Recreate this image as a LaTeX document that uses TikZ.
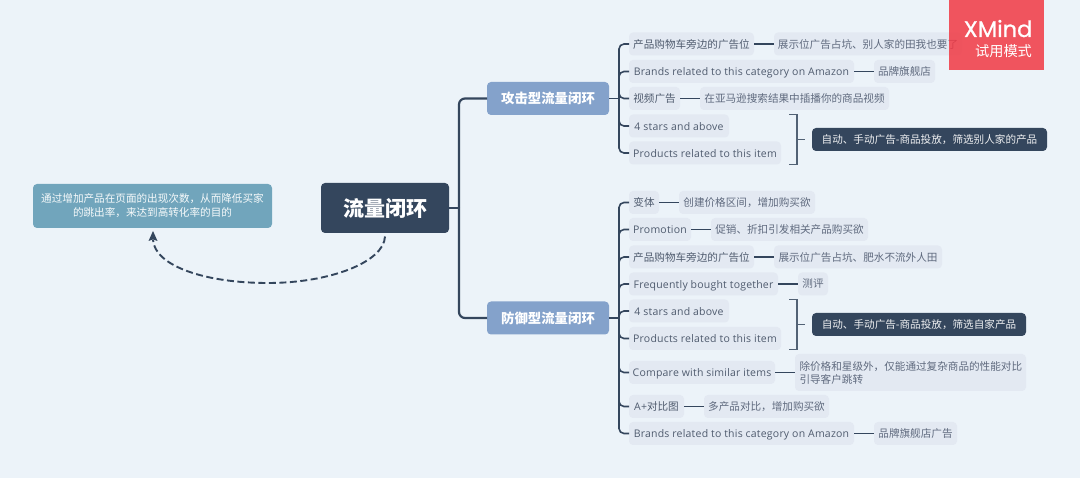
\documentclass[tikz,border=0pt]{standalone}
\usepackage{fontspec}
\setmainfont{Noto Sans CJK SC}
\newfontfamily\enf[LetterSpace=2]{Open Sans}
\newfontfamily\logof[FakeBold=0.8]{Poppins}
\newcommand{\en}[1]{\raisebox{0pt}[8.6pt][0pt]{\enf\fontsize{10.5}{13}\selectfont #1}}
\definecolor{bgc}{HTML}{ECF3F9}
\definecolor{linec}{HTML}{34465D}
\definecolor{boxc}{HTML}{E3E9F2}
\definecolor{txa}{HTML}{4F5B6E}
\definecolor{txb}{HTML}{5F6A7E}
\definecolor{branchc}{HTML}{84A2CB}
\definecolor{tealc}{HTML}{71A5BC}
\definecolor{redc}{HTML}{F13944}
\tikzset{
  box/.style={rectangle,rounded corners=4pt,inner sep=0pt,outer sep=0pt,align=center},
  kid/.style={box,fill=boxc,text=txa,minimum height=23pt,font=\fontsize{10.6}{13}\selectfont},
  leaf/.style={box,fill=boxc,text=txb,minimum height=23pt,font=\fontsize{10.6}{13}\selectfont},
  darkn/.style={box,fill=linec,text=white!92!linec,minimum height=23pt,font=\fontsize{10.6}{13}\selectfont},
  branchn/.style={box,fill=branchc,text=white,minimum width=122pt,minimum height=33pt,font=\fontsize{13.4}{16}\selectfont\bfseries},
  trunk/.style={draw=linec,line width=2.2pt,rounded corners=6pt},
  twig/.style={draw=linec,line width=1.6pt,rounded corners=5pt},
  pair/.style={draw=linec,line width=1.7pt},
  brace/.style={draw=linec!85!white,line width=1.4pt},
}
\begin{document}
\begin{tikzpicture}[x=1pt,y=-1pt]
\useasboundingbox (0,0) rectangle (1080,478);
\fill[bgc] (0,0) rectangle (1080,478);
% central
\node[box,fill=linec,text=white,minimum width=128pt,minimum height=50pt,font=\fontsize{21}{25}\selectfont\bfseries] (root) at (385,208) {流量闭环};
\node[box,fill=tealc,text=white!94!tealc,minimum width=239pt,minimum height=44pt,font=\fontsize{10.6}{14}\selectfont] (note) at (152.5,206) {通过增加产品在页面的出现次数，从而降低买家\\的跳出率，来达到高转化率的目的};
\node[branchn] (bra) at (548,98.5) {攻击型流量闭环};
\node[branchn] (brb) at (548,318) {防御型流量闭环};
% group A
\node[kid,minimum width=125pt] (a1) at (691.5,44) {产品购物车旁边的广告位};
\node[leaf,minimum width=188pt] (a1x) at (868,44) {展示位广告占坑、别人家的田我也要了};
\node[kid,minimum width=225pt] (a2) at (741.5,71.5) {\en{Brands related to this category on Amazon}};
\node[leaf,minimum width=61pt] (a2x) at (904.5,71.5) {品牌旗舰店};
\node[kid,minimum width=51pt] (a3) at (654.5,98.5) {视频广告};
\node[leaf,minimum width=189pt] (a3x) at (794.5,98.5) {在亚马逊搜索结果中插播你的商品视频};
\node[kid,minimum width=100pt] (a4) at (679,126) {\en{4 stars and above}};
\node[kid,minimum width=152pt] (a5) at (705,153) {\en{Products related to this item}};
\node[darkn,minimum width=235pt] (ad) at (929.5,139.5) {自动、手动广告-商品投放，筛选别人家的产品};
% group B
\node[kid,minimum width=30pt] (b1) at (644,202.5) {变体};
\node[leaf,minimum width=136pt] (b1x) at (747,202.5) {创建价格区间，增加购买欲};
\node[kid,minimum width=62pt] (b2) at (660,229.5) {\en{Promotion}};
\node[leaf,minimum width=157pt] (b2x) at (789.5,229.5) {促销、折扣引发相关产品购买欲};
\node[kid,minimum width=125pt] (b3) at (691.5,257) {产品购物车旁边的广告位};
\node[leaf,minimum width=168pt] (b3x) at (858,257) {展示位广告占坑、肥水不流外人田};
\node[kid,minimum width=149pt] (b4) at (703.5,284) {\en{Frequently bought together}};
\node[leaf,minimum width=30pt] (b4x) at (813,284) {测评};
\node[kid,minimum width=100pt] (b5) at (679,311) {\en{4 stars and above}};
\node[kid,minimum width=152pt] (b6) at (705,338.5) {\en{Products related to this item}};
\node[darkn,minimum width=214pt] (bd) at (919,324.5) {自动、手动广告-商品投放，筛选自家产品};
\node[kid,minimum width=146pt] (b7) at (702,372.5) {\en{Compare with similar items}};
\node[leaf,minimum width=231pt,minimum height=37pt] (b7x) at (910.5,372.5) {\parbox{222pt}{除价格和星级外，仅能通过复杂商品的性能对比\\引导客户跳转}};
\node[kid,minimum width=55pt] (b8) at (656.5,406.5) {{\enf\fontsize{10.5}{13}\selectfont A+}对比图};
\node[leaf,minimum width=125pt] (b8x) at (766.5,406.5) {多产品对比，增加购买欲};
\node[kid,minimum width=225pt] (b9) at (741.5,433.5) {\en{Brands related to this category on Amazon}};
\node[leaf,minimum width=83pt] (b9x) at (915.5,433.5) {品牌旗舰店广告};
% trunks
\coordinate (tr) at (459,208);
\draw[trunk] (root.east) -- (tr);
\draw[trunk] (tr) |- (bra.west);
\draw[trunk] (tr) |- (brb.west);
\coordinate (ta) at (619,98.5);
\coordinate (tb) at (619,318);
\draw[twig,line width=1.9pt] (bra.east) -- (ta);
\draw[twig,line width=1.9pt] (brb.east) -- (tb);
\foreach \n in {a1,a2,a3,a4,a5} \draw[twig] (ta) |- (\n.west);
\foreach \n in {b1,b2,b3,b4,b5,b6,b7,b8,b9} \draw[twig] (tb) |- (\n.west);
\foreach \n in {a1,a2,a3,b1,b2,b3,b4,b7,b8,b9} \draw[pair] (\n.east) -- (\n x.west);
% brackets
\coordinate (ab1) at (789,114.5);
\coordinate (ab2) at (797,114.5);
\coordinate (ab3) at (797,164.5);
\coordinate (ab4) at (789,164.5);
\coordinate (abs) at (797,139.5);
\coordinate (abe) at (805,139.5);
\draw[brace] (ab1) -- (ab2) -- (ab3) -- (ab4);
\draw[brace] (abs) -- (abe);
\coordinate (bb1) at (789,299.5);
\coordinate (bb2) at (797,299.5);
\coordinate (bb3) at (797,349.5);
\coordinate (bb4) at (789,349.5);
\coordinate (bbs) at (797,324.5);
\coordinate (bbe) at (805,324.5);
\draw[brace] (bb1) -- (bb2) -- (bb3) -- (bb4);
\draw[brace] (bbs) -- (bbe);
% dashed relation
\coordinate (rs) at (385,236.5);
\coordinate (re) at (153,231);
\draw[linec,line width=1.9pt,dash pattern=on 7pt off 3.5pt] (rs) .. controls (384,262) and (330,283) .. (268,283) .. controls (205,283) and (155,266) .. (153,240);
\fill[linec] (re) -- (157.5,241) -- (153,239.5) -- (148.5,241) -- cycle;
% trial badge
\node[rectangle,fill=redc,fill opacity=.85,minimum width=95pt,minimum height=70pt,inner sep=0pt] (logo) at (996.5,35) {};
\node[text=white,font=\logof\fontsize{22.5}{24}\selectfont,anchor=base east,inner sep=0pt] (lg1) at (1032.5,37) {XMind};
\node[text=white,font=\fontsize{14.2}{16}\selectfont,anchor=center,inner sep=0pt] (lg2) at (1003.5,51) {试用模式};
\end{tikzpicture}
\end{document}
